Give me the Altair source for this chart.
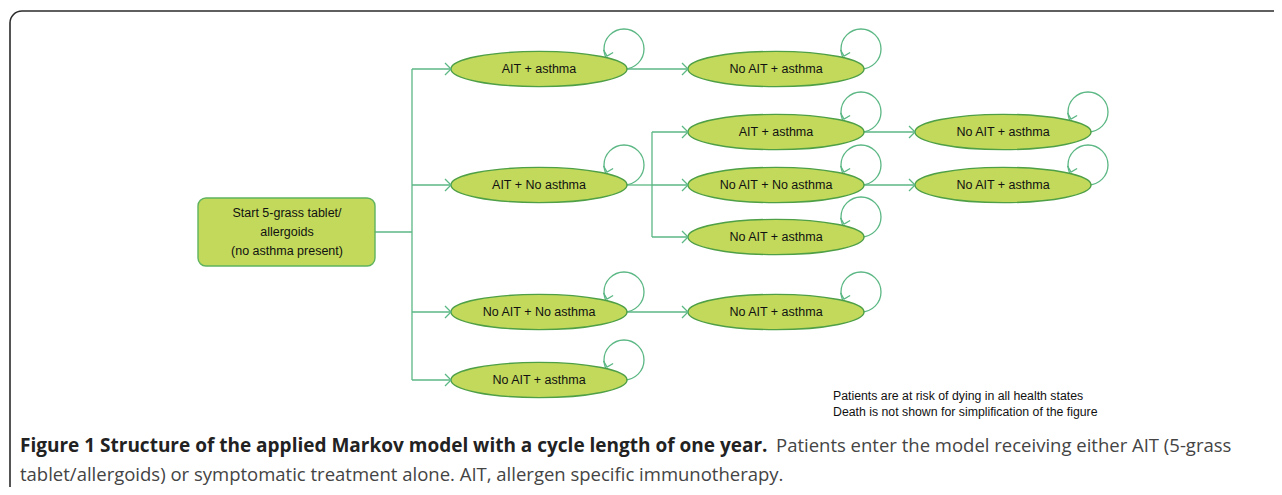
import altair as alt
import pandas as pd

# ---- health-state nodes (diagram layout in page pixels) ----
node_labels = ["AIT + asthma", "AIT + No asthma", "No AIT + No asthma", "No AIT + asthma",
               "No AIT + asthma", "AIT + asthma", "No AIT + No asthma", "No AIT + asthma",
               "No AIT + asthma", "No AIT + asthma", "No AIT + asthma"]
node_x = [539, 539, 539, 539, 776, 776, 776, 776, 776, 1003, 1003]
node_y = [69, 185, 312, 380, 69, 132, 185, 237, 312, 132, 185]

# ---- connectors ----
seg_x1 = [375, 412, 412, 412, 412, 412, 627, 627, 652, 652, 652, 652, 627, 864, 864]
seg_y1 = [232, 69, 69, 185, 312, 380, 69, 185, 132, 132, 185, 237, 312, 132, 185]
seg_x2 = [412, 412, 451, 451, 451, 451, 688, 652, 652, 688, 688, 688, 688, 915, 915]
seg_y2 = [232, 380, 69, 185, 312, 380, 69, 185, 237, 132, 185, 237, 312, 132, 185]

# ---- start box ----
start_lines = ["Start 5-grass tablet/", "allergoids", "(no asthma present)"]
start_line_y = [213, 232, 251]

# ---- notes and caption ----
note_lines = ["Patients are at risk of dying in all health states",
              "Death is not shown for simplification of the figure"]
note_y = [396, 412]
caption_bold = "Figure 1 Structure of the applied Markov model with a cycle length of one year."
caption_rest1 = "Patients enter the model receiving either AIT (5-grass"
caption_rest2 = "tablet/allergoids) or symptomatic treatment alone. AIT, allergen specific immunotherapy."

HALF_W = 88
LINE_C = "#5bb784"
FILL_C = "#c2d95b"
EDGE_C = "#4e9f45"

X = alt.Scale(domain=[8, 1274], nice=False, zero=False)
Y = alt.Scale(domain=[487, 8], nice=False, zero=False)

def xe(f):
    return alt.X(f, type="quantitative", scale=X, axis=None)

def ye(f):
    return alt.Y(f, type="quantitative", scale=Y, axis=None)

nodes = pd.DataFrame({"label": node_labels, "x": node_x, "y": node_y})
nodes["left"] = nodes["x"] - HALF_W
nodes["lx"] = nodes["x"] + 85
nodes["ly"] = nodes["y"] - 20
nodes["ax"] = nodes["x"] + 68
nodes["ay"] = nodes["y"] - 13

segs = pd.DataFrame({"x1": seg_x1, "y1": seg_y1, "x2": seg_x2, "y2": seg_y2})

frame = alt.Chart(pd.DataFrame({"x1": [10], "y1": [11], "x2": [1320], "y2": [540]})).mark_rect(
    fill=None, stroke="#2b2b2b", strokeWidth=1.6, cornerRadius=12
).encode(x=xe("x1"), y=ye("y1"), x2="x2", y2="y2")

conn = alt.Chart(segs).mark_rule(color=LINE_C, strokeWidth=1.3).encode(
    x=xe("x1"), y=ye("y1"), x2="x2", y2="y2")

loops = alt.Chart(nodes).mark_point(
    shape="circle", filled=False, size=1600, color=LINE_C, strokeWidth=1.3, opacity=1
).encode(x=xe("lx"), y=ye("ly"))

ellipse_path = "M-1,0 A1,0.2 0 1,1 1,0 A1,0.2 0 1,1 -1,0 Z"
ellipses = alt.Chart(nodes).mark_point(
    shape=ellipse_path, filled=True, size=(2 * HALF_W) ** 2, fill=FILL_C, fillOpacity=1,
    stroke=EDGE_C, strokeWidth=1.4, opacity=1
).encode(x=xe("x"), y=ye("y"))

arrows = alt.Chart(nodes).mark_point(
    shape="M-1,-1 L0,0 L-1,1", filled=False, size=144, color=LINE_C, strokeWidth=1.3, opacity=1
).encode(x=xe("left"), y=ye("y"))

loop_arrows = alt.Chart(nodes).mark_point(
    shape="M-1,-1 L0,0 L1,-1", filled=False, size=100, color=LINE_C, strokeWidth=1.3,
    opacity=1, angle=15
).encode(x=xe("ax"), y=ye("ay"))

node_text = alt.Chart(nodes).mark_text(
    font="Liberation Sans", fontSize=12.5, color="#111111", baseline="middle", align="center"
).encode(x=xe("x"), y=ye("y"), text="label")

start_box = alt.Chart(pd.DataFrame({"x1": [198], "y1": [198], "x2": [375], "y2": [266]})).mark_rect(
    fill=FILL_C, stroke="#5fb35f", strokeWidth=1.4, cornerRadius=8
).encode(x=xe("x1"), y=ye("y1"), x2="x2", y2="y2")

start_text = alt.Chart(pd.DataFrame({"t": start_lines, "y": start_line_y, "x": [287] * 3})).mark_text(
    font="Liberation Sans", fontSize=12.5, color="#111111", baseline="middle", align="center"
).encode(x=xe("x"), y=ye("y"), text="t")

notes = alt.Chart(pd.DataFrame({"t": note_lines, "y": note_y, "x": [833] * 2})).mark_text(
    font="Liberation Sans", fontSize=12.3, color="#111111", baseline="middle", align="left"
).encode(x=xe("x"), y=ye("y"), text="t")

cap_bold = alt.Chart(pd.DataFrame({"t": [caption_bold], "x": [20], "y": [446]})).mark_text(
    font="Open Sans", fontSize=19, fontWeight="bold", color="#222222", baseline="middle", align="left"
).encode(x=xe("x"), y=ye("y"), text="t")

cap_rest = alt.Chart(pd.DataFrame({"t": [caption_rest1, caption_rest2], "x": [776, 20], "y": [446, 475]})).mark_text(
    font="Open Sans", fontSize=18.5, color="#444444", baseline="middle", align="left"
).encode(x=xe("x"), y=ye("y"), text="t")

chart = alt.layer(
    frame, conn, loops, ellipses, arrows, loop_arrows, node_text,
    start_box, start_text, notes, cap_bold, cap_rest
).properties(
    width=1266, height=479, padding=0,
    autosize=alt.AutoSizeParams(type="none")
).configure_view(stroke=None)

chart.save("out.html", embed_options={"renderer": "svg", "actions": False})
